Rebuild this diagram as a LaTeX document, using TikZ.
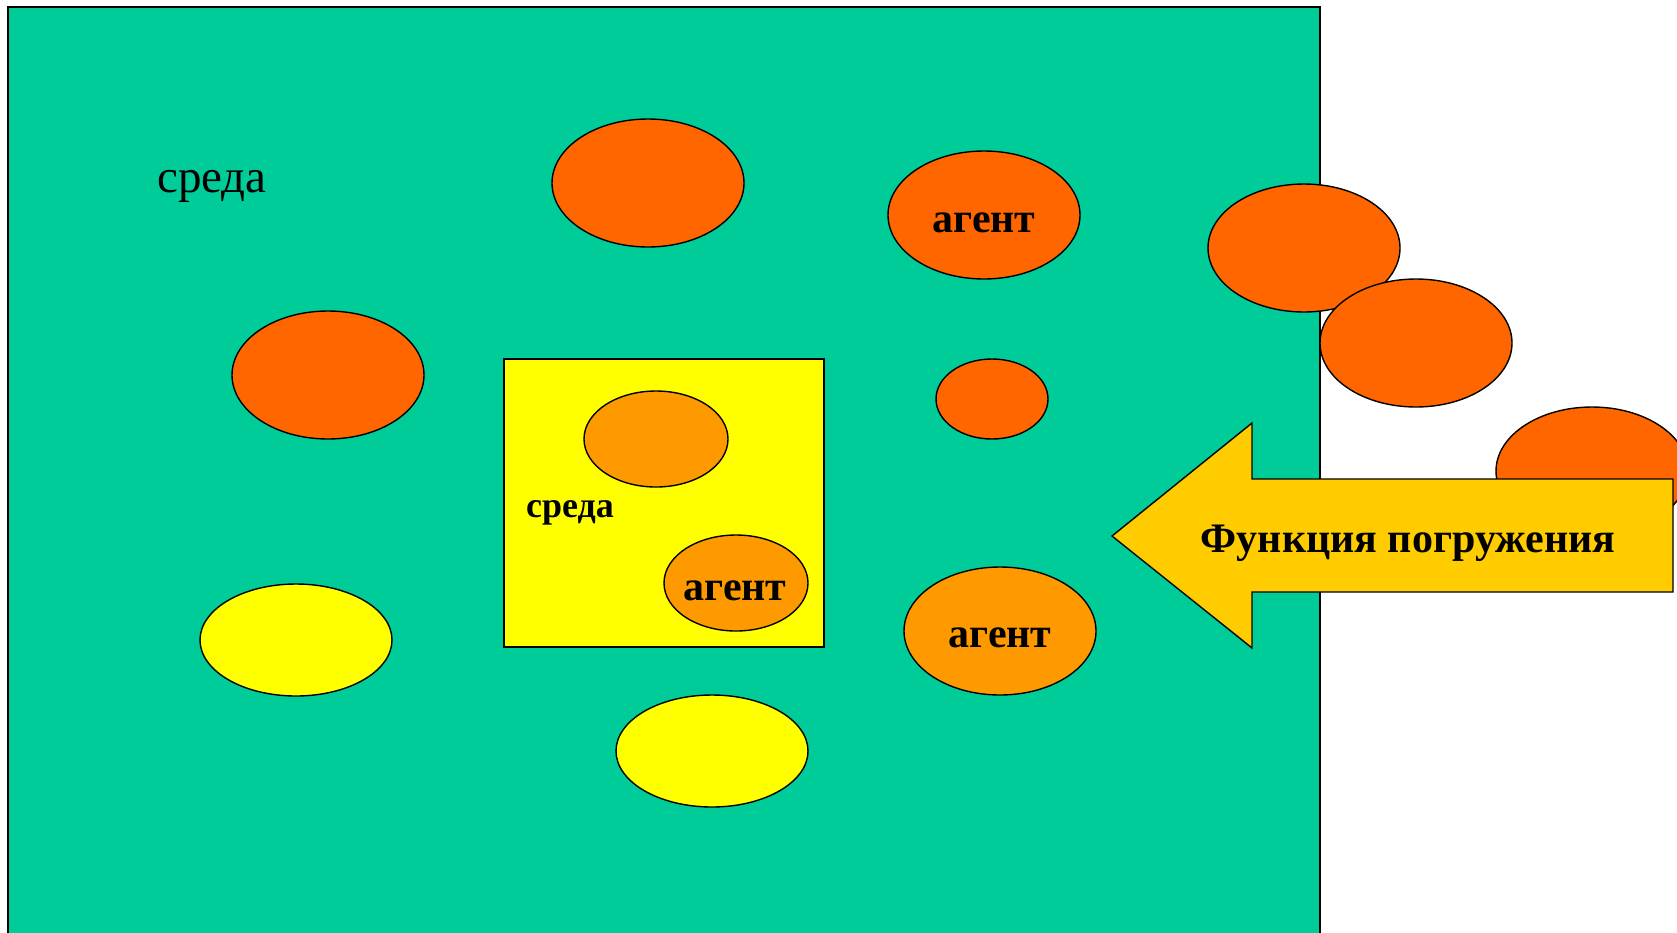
\documentclass[tikz,border=0pt]{standalone}
\usepackage{fontspec}
\setmainfont{Liberation Serif}
\usetikzlibrary{shapes.geometric}

\definecolor{sreda}{RGB}{0,204,153}
\definecolor{ora}{RGB}{255,102,0}
\definecolor{ora2}{RGB}{255,153,0}
\definecolor{yel}{RGB}{255,255,0}
\definecolor{arr}{RGB}{255,204,0}

\begin{document}
\begin{tikzpicture}[
  x=1pt, y=-1pt,
  oval/.style={ellipse, draw, line width=1.4pt, minimum width=192pt, minimum height=128pt, inner sep=0pt},
  smalloval/.style={oval, minimum width=144pt, minimum height=96pt},
  lbl/.style={anchor=base, inner sep=0pt, font=\bfseries\fontsize{42}{48}\selectfont},
  line width=1.4pt
]
  \useasboundingbox (0,0) rectangle (1677,932);
  \clip (0,0) rectangle (1677,932);

  % среда
  \draw[fill=sreda] (8,7) rectangle (1320,960);
  \node[anchor=base, inner sep=0pt, font=\fontsize{47}{52}\selectfont] (env) at (212,192) {среда};

  % агенты в среде
  \node[oval, fill=ora] (e1) at (648,183) {};
  \node[oval, fill=ora] (e2) at (984,215) {};
  \node[lbl] (t2) at (984,232) {агент};
  \node[oval, fill=ora] (e3) at (328,375) {};
  \node[oval, fill=ora, minimum width=112pt, minimum height=80pt] (e4) at (992,399) {};
  \node[oval, fill=yel, minimum height=112pt] (e5) at (296,640) {};
  \node[oval, fill=yel, minimum height=112pt] (e6) at (712,751) {};
  \node[oval, fill=ora2] (e7) at (1000,631) {};
  \node[lbl] (t7) at (1000,647) {агент};

  % вложенная среда
  \draw[fill=yel] (504,359) rectangle (824,647);
  \node[lbl, font=\bfseries\fontsize{36}{42}\selectfont] (env2) at (570,517) {среда};
  \node[smalloval, fill=ora2] (i1) at (656,439) {};
  \node[smalloval, fill=ora2] (i2) at (736,583) {};
  \node[lbl] (ti2) at (735,600) {агент};

  % агенты снаружи
  \node[oval, fill=ora] (o1) at (1304,248) {};
  \node[oval, fill=ora] (o2) at (1416,343) {};
  \node[oval, fill=ora] (o3) at (1592,471) {};

  % Функция погружения
  \draw[fill=arr] (1112,536) -- (1252,423) -- (1252,479) -- (1673,479)
    -- (1673,592) -- (1252,592) -- (1252,648) -- cycle;
  \node[lbl] (fp) at (1408,552) {Функция погружения};
\end{tikzpicture}
\end{document}
